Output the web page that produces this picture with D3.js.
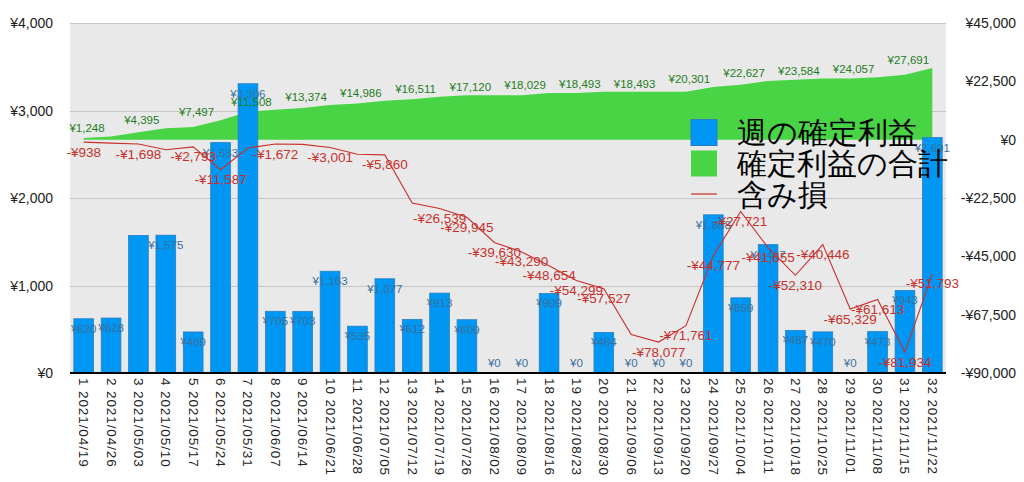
<!DOCTYPE html>
<html><head><meta charset="utf-8">
<script src="https://cdn.jsdelivr.net/npm/d3@7"></script>
<style>
html,body{margin:0;padding:0;background:#fff;}
svg{display:block;}
text{font-family:"Liberation Sans",Arial,sans-serif;}
</style></head>
<body>
<svg id="chart" width="1024" height="482"></svg>
<script>
const weekLabels = ["1 2021/04/19","2 2021/04/26","3 2021/05/03","4 2021/05/10","5 2021/05/17","6 2021/05/24","7 2021/05/31","8 2021/06/07","9 2021/06/14","10 2021/06/21","11 2021/06/28","12 2021/07/05","13 2021/07/12","14 2021/07/19","15 2021/07/26","16 2021/08/02","17 2021/08/09","18 2021/08/16","19 2021/08/23","20 2021/08/30","21 2021/09/06","22 2021/09/13","23 2021/09/20","24 2021/09/27","25 2021/10/04","26 2021/10/11","27 2021/10/18","28 2021/10/25","29 2021/11/01","30 2021/11/08","31 2021/11/15","32 2021/11/22"];
const weeklyProfit = [620,628,1572,1575,469,2633,3306,705,703,1163,535,1077,612,913,609,0,0,909,0,464,0,0,0,1808,859,1467,487,470,0,473,943,2691];
const cumulativeProfit = [620,1248,2820,4395,4864,7497,10803,11508,12211,13374,13909,14986,15598,16511,17120,17120,17120,18029,18029,18493,18493,18493,18493,20301,21160,22627,23114,23584,23584,24057,25000,27691];
const unrealizedLoss = [-938,-1350,-1698,-3900,-2793,-11587,-3200,-1672,-1800,-3001,-5600,-5860,-24400,-26539,-29945,-39630,-43290,-48654,-54299,-57527,-75200,-78077,-71761,-44777,-27721,-41655,-52310,-40446,-65329,-61613,-81934,-51793];
const leftTicks = [0,1000,2000,3000,4000];
const rightTicks = [45000,22500,0,-22500,-45000,-67500,-90000];
const legendNames = ["週の確定利益","確定利益の合計","含み損"];
// which value labels are shown
const barLabelHidden = [2];
const cumLabelShown = [1,3,5,7,9,11,13,15,17,19,21,23,25,27,29,31];
const lossLabelHidden = [1,3,6,8,10,12,20];

const svg = d3.select("#chart");
const L = 70, R = 946, T = 23, B = 373;
const x = d3.scaleBand().domain(d3.range(weekLabels.length)).range([L, R]).paddingInner(0.28).paddingOuter(0.14);
const yL = d3.scaleLinear().domain([0, 4000]).range([B, T]);
const yR = d3.scaleLinear().domain([-90000, 45000]).range([B, T]);
const cx = i => x(i) + x.bandwidth() / 2;
const yen = v => (v < 0 ? "-¥" : "¥") + d3.format(",")(Math.abs(v));

// background
svg.append("rect").attr("x", L).attr("y", T).attr("width", R - L).attr("height", B - T).attr("fill", "#e9e9e9");
// gridlines
svg.append("g").selectAll("line").data(leftTicks.filter(d => d > 0)).join("line")
  .attr("x1", L).attr("x2", R).attr("y1", d => Math.round(yL(d)) + 0.5).attr("y2", d => Math.round(yL(d)) + 0.5)
  .attr("stroke", "#c6c6c6").attr("stroke-width", 1);

// area
const area = d3.area().x((d, i) => cx(i)).y0(yR(0)).y1(d => yR(d));
svg.append("path").datum(cumulativeProfit).attr("d", area).attr("fill", "#48d444");

// bars
svg.append("g").selectAll("rect").data(weeklyProfit).join("rect")
  .attr("x", (d, i) => x(i)).attr("width", x.bandwidth())
  .attr("y", d => yL(d)).attr("height", d => B - yL(d))
  .attr("fill", "#0097f4").attr("stroke", "#2a7fc0").attr("stroke-width", 0.8);

// red line
const line = d3.line().x((d, i) => cx(i)).y(d => yR(d));
svg.append("path").datum(unrealizedLoss).attr("d", line).attr("fill", "none").attr("stroke", "#c8302c").attr("stroke-width", 1.1);

// x axis line
svg.append("line").attr("x1", L).attr("x2", R).attr("y1", B).attr("y2", B).attr("stroke", "#000").attr("stroke-width", 2);

// bar labels
svg.append("g").selectAll("text").data(weeklyProfit.map((v, i) => ({v, i})).filter(d => !barLabelHidden.includes(d.i))).join("text")
  .attr("x", d => cx(d.i)).attr("y", d => Math.min(yL(d.v) + 10, B - 10))
  .attr("text-anchor", "middle").attr("dominant-baseline", "central")
  .attr("font-size", 11.5).attr("fill", "#39709c").text(d => yen(d.v));

// cumulative labels
svg.append("g").selectAll("text").data(cumLabelShown).join("text")
  .attr("x", i => cx(i) - 24).attr("y", i => yR(cumulativeProfit[i]) - 8)
  .attr("text-anchor", "middle").attr("dominant-baseline", "central")
  .attr("font-size", 11.5).attr("fill", "#1e7d1e").text(i => yen(cumulativeProfit[i]));

// loss labels
svg.append("g").selectAll("text").data(unrealizedLoss.map((v, i) => ({v, i})).filter(d => !lossLabelHidden.includes(d.i))).join("text")
  .attr("x", d => cx(d.i)).attr("y", d => yR(d.v) + 10)
  .attr("text-anchor", "middle").attr("dominant-baseline", "central")
  .attr("font-size", 13.5).attr("fill", "#c8302c").text(d => yen(d.v));

// left axis labels
svg.append("g").selectAll("text").data(leftTicks).join("text")
  .attr("x", 53).attr("y", d => yL(d)).attr("text-anchor", "end").attr("dominant-baseline", "central")
  .attr("font-size", 14).attr("fill", "#222").text(d => yen(d));
// right axis labels
svg.append("g").selectAll("text").data(rightTicks).join("text")
  .attr("x", 1016).attr("y", d => yR(d)).attr("text-anchor", "end").attr("dominant-baseline", "central")
  .attr("font-size", 14).attr("fill", "#222").text(d => yen(d));

// x labels
svg.append("g").selectAll("text").data(weekLabels).join("text")
  .attr("transform", (d, i) => `translate(${cx(i)},${B + 5}) rotate(90)`)
  .attr("text-anchor", "start").attr("dominant-baseline", "central")
  .attr("font-size", 13.5).attr("letter-spacing", 0.9).attr("fill", "#222").text(d => d);

// legend
const lg = svg.append("g");
const rowY = [132.5, 163.5, 194];
lg.append("rect").attr("x", 691).attr("y", rowY[0] - 13).attr("width", 26).attr("height", 26).attr("fill", "#0097f4").attr("stroke", "#2a7fc0").attr("stroke-width", 1);
lg.append("rect").attr("x", 691).attr("y", rowY[1] - 13).attr("width", 26).attr("height", 26).attr("fill", "#48d444");
lg.append("line").attr("x1", 691).attr("x2", 717).attr("y1", rowY[2]).attr("y2", rowY[2]).attr("stroke", "#c8302c").attr("stroke-width", 1.2);
lg.selectAll("text").data(legendNames).join("text")
  .attr("x", 737).attr("y", (d, i) => rowY[i]).attr("dominant-baseline", "central")
  .attr("font-family", "'Noto Sans CJK JP', sans-serif").attr("font-size", 30).attr("fill", "#000").text(d => d);
</script>
</body></html>
